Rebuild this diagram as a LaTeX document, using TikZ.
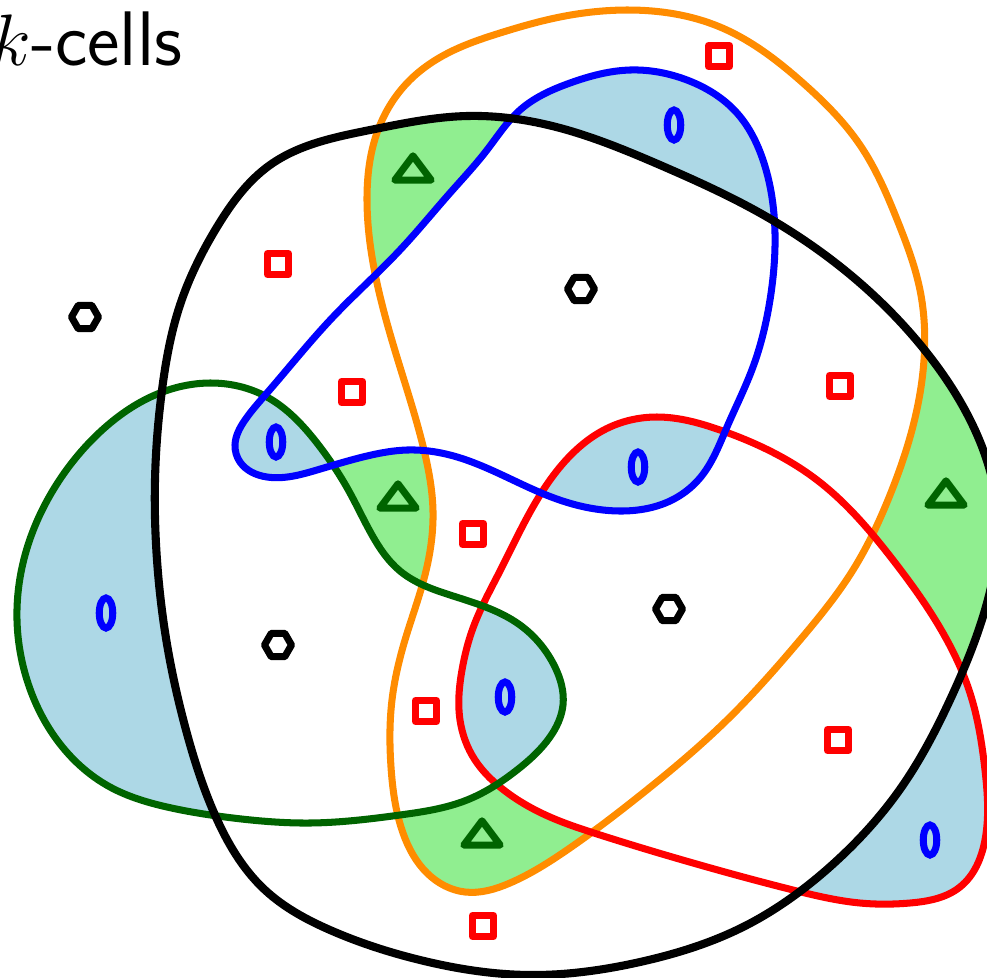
\documentclass[tikz,border=0pt]{standalone}
\usepackage{tikz}
\usetikzlibrary{shapes.geometric, hobby}
\definecolor{cellblue}{HTML}{ADD8E6}
\definecolor{cellgreen}{HTML}{90EE90}
\definecolor{loopgreen}{HTML}{006400}
\definecolor{looporange}{HTML}{FF8C00}

% the five closed curves (pixel units)
\newcommand{\blackloop}{plot[closed hobby] coordinates {(155,480) (162,390) (180,305) (217,227) (270,165) (370,130) (467,116) (560,128) (660,165) (760,213) (860,283) (927,353) (975,430) (998,520) (985,610) (950,700) (903,785) (832,865) (743,927) (640,962) (530,975) (420,960) (330,930) (265,890) (215,815) (186,730) (168,650) (157,560)}}
\newcommand{\orangeloop}{plot[closed hobby] coordinates {(500,33) (560,17) (627,10) (720,27) (803,83) (860,145) (898,222) (920,290) (924,360) (912,430) (890,495) (853,570) (800,640) (727,720) (643,793) (567,850) (510,883) (465,892) (427,873) (403,833) (391,767) (392,700) (405,640) (425,575) (433,511) (424,450) (400,367) (377,283) (367,200) (378,130) (410,80) (450,52)}}
\newcommand{\blueloop}{plot[closed hobby] coordinates {(487,150) (520,110) (570,83) (630,70) (687,80) (737,113) (763,160) (775,233) (770,300) (753,367) (727,427) (700,478) (670,501) (620,511) (554,498) (500,474) (450,455) (407,450) (367,456) (317,470) (267,477) (240,462) (235,445) (245,420) (267,393) (333,317) (400,250) (450,193)}}
\newcommand{\greenloop}{plot[closed hobby] coordinates {(17,620) (28,545) (55,487) (100,432) (155,395) (210,383) (267,397) (317,443) (350,493) (372,535) (400,571) (450,595) (520,625) (554,665) (563,705) (550,737) (517,770) (467,800) (400,815) (310,823) (233,818) (167,807) (110,787) (57,740) (27,680)}}
\newcommand{\redloop}{plot[closed hobby] coordinates {(473,628) (500,571) (537,500) (560,467) (610,427) (657,417) (720,430) (817,480) (893,560) (943,633) (970,693) (985,770) (985,840) (960,887) (910,903) (860,903) (793,890) (693,863) (597,834) (550,817) (500,787) (475,760) (460,720) (462,670)}}
\newcommand{\bigbox}{(-100,-100) rectangle (1100,1100)}

\begin{document}
\begin{tikzpicture}[x=0.01cm, y=-0.01cm,
  loop/.style={line width=2pt, line join=round},
  cellsq/.style={draw=red, line width=2pt, line join=round, rectangle, minimum size=0.21cm, inner sep=0pt},
  cellhex/.style={draw=black, line width=2pt, line join=round, regular polygon, regular polygon sides=6, minimum size=0.27cm, inner sep=0pt},
  celltri/.style={draw=loopgreen, line width=2pt, line join=round, regular polygon, regular polygon sides=3, minimum size=0.42cm, inner sep=0pt, yscale=0.77, transform shape},
  cellzero/.style={draw=blue, line width=2pt, ellipse, minimum width=0.135cm, minimum height=0.30cm, inner sep=0pt}]
  \useasboundingbox (0,0) rectangle (987,978);
  \clip (0,0) rectangle (987,978);

  % 2-cells
  \begin{scope}[even odd rule]
    \clip \blueloop;
    \fill[cellblue] \bigbox \blackloop;
  \end{scope}
  \begin{scope}
    \clip \blueloop;
    \fill[cellblue] \greenloop;
  \end{scope}
  \begin{scope}
    \clip \blueloop;
    \fill[cellblue] \redloop;
  \end{scope}
  \begin{scope}[even odd rule]
    \clip \greenloop;
    \fill[cellblue] \bigbox \blackloop;
  \end{scope}
  \begin{scope}
    \clip \greenloop;
    \fill[cellblue] \redloop;
  \end{scope}
  \begin{scope}[even odd rule]
    \clip \redloop;
    \fill[cellblue] \bigbox \blackloop;
  \end{scope}

  % 3-cells
  \begin{scope}[even odd rule]
    \clip (300,0) rectangle (600,300);
    \clip \orangeloop;
    \clip \blackloop;
    \fill[cellgreen] \bigbox \blueloop;
  \end{scope}
  \begin{scope}[even odd rule]
    \clip (320,440) rectangle (445,585);
    \clip \bigbox \blueloop;
    \clip \bigbox \greenloop;
    \fill[cellgreen] \bigbox \orangeloop;
  \end{scope}
  \begin{scope}[even odd rule]
    \clip (860,330) rectangle (1000,700);
    \clip \blackloop;
    \clip \bigbox \orangeloop;
    \fill[cellgreen] \bigbox \redloop;
  \end{scope}
  \begin{scope}[even odd rule]
    \clip (390,780) rectangle (620,900);
    \clip \orangeloop;
    \clip \bigbox \greenloop;
    \fill[cellgreen] \bigbox \redloop;
  \end{scope}

  % curves
  \draw[loop, looporange] \orangeloop;
  \draw[loop, red] \redloop;
  \draw[loop, loopgreen] \greenloop;
  \draw[loop, blue] \blueloop;
  \draw[loop, black, line width=2.3pt] \blackloop;

  % markers
  \node[cellsq] (sq1) at (719,56) {};
  \node[cellsq] (sq2) at (278,264) {};
  \node[cellsq] (sq3) at (352,392) {};
  \node[cellsq] (sq4) at (840,386) {};
  \node[cellsq] (sq5) at (473,534) {};
  \node[cellsq] (sq6) at (426,711) {};
  \node[cellsq] (sq7) at (838,740) {};
  \node[cellsq] (sq8) at (483,926) {};

  \node[cellhex] (hex1) at (85,317) {};
  \node[cellhex] (hex2) at (581,289) {};
  \node[cellhex] (hex3) at (669,609) {};
  \node[cellhex] (hex4) at (278,645) {};

  \node[celltri] (tri1) at (413,172) {};
  \node[celltri] (tri2) at (398,500) {};
  \node[celltri] (tri3) at (946,497) {};
  \node[celltri] (tri4) at (482,837) {};

  \node[cellzero] (zero1) at (674,125) {};
  \node[cellzero] (zero2) at (276,442) {};
  \node[cellzero] (zero3) at (638,467) {};
  \node[cellzero] (zero4) at (106,613) {};
  \node[cellzero] (zero5) at (505,697) {};
  \node[cellzero] (zero6) at (930,840) {};

  \node[anchor=base east, inner sep=0pt, font=\fontsize{22}{26}\selectfont\sffamily] (title) at (183,65) {$k$-cells};
\end{tikzpicture}
\end{document}
